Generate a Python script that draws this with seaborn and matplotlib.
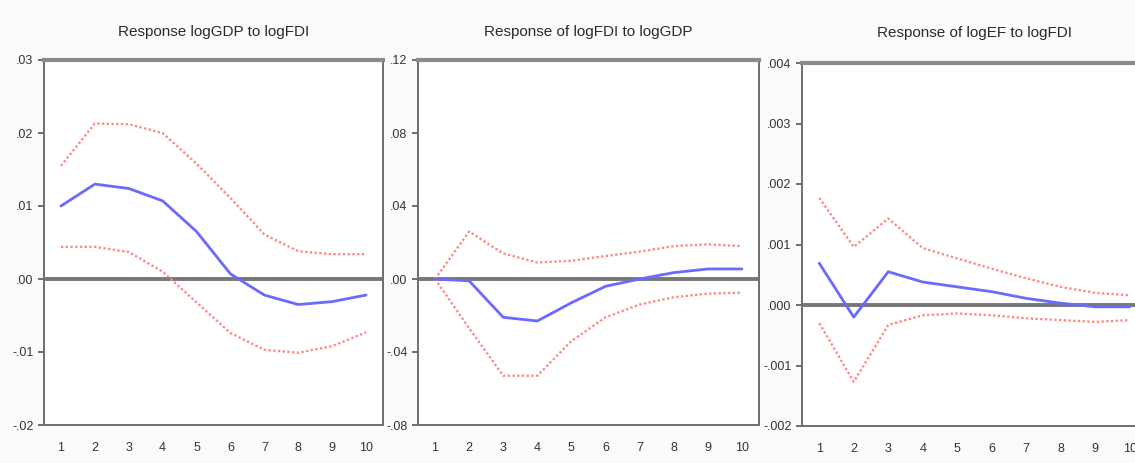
import numpy as np
import pandas as pd
import matplotlib
matplotlib.use("Agg")
import matplotlib.pyplot as plt
from matplotlib.ticker import FixedLocator, FuncFormatter
import seaborn as sns

periods = list(range(1, 11))

# Response logGDP to logFDI
gdp_resp = [0.0100, 0.0130, 0.0124, 0.0107, 0.0065, 0.0007, -0.0022, -0.0035, -0.0031, -0.0022]
gdp_upper = [0.0155, 0.0213, 0.0212, 0.0200, 0.0158, 0.0111, 0.0061, 0.0038, 0.0034, 0.0034]
gdp_lower = [0.0044, 0.0044, 0.0037, 0.0010, -0.0032, -0.0074, -0.0097, -0.0101, -0.0092, -0.0073]

# Response of logFDI to logGDP
fdi_resp = [0.0, -0.001, -0.021, -0.023, -0.013, -0.004, 0.0, 0.0035, 0.0055, 0.0055]
fdi_upper = [0.0, 0.026, 0.014, 0.009, 0.010, 0.0126, 0.015, 0.018, 0.019, 0.018]
fdi_lower = [0.0, -0.027, -0.053, -0.053, -0.034, -0.021, -0.014, -0.010, -0.008, -0.0075]

# Response of logEF to logFDI
ef_resp = [0.00069, -0.00020, 0.00055, 0.00038, 0.00030, 0.00022, 0.00011, 0.00003, -0.00003, -0.00003]
ef_upper = [0.00177, 0.00096, 0.00143, 0.00094, 0.00077, 0.00060, 0.00044, 0.00030, 0.00020, 0.00016]
ef_lower = [-0.00030, -0.00127, -0.00033, -0.00017, -0.00014, -0.00017, -0.00022, -0.00025, -0.00028, -0.00025]

titles = ["Response logGDP to logFDI", "Response of logFDI to logGDP", "Response of logEF to logFDI"]
y_ticks = [
    [-0.02, -0.01, 0.0, 0.01, 0.02, 0.03],
    [-0.08, -0.04, 0.0, 0.04, 0.08, 0.12],
    [-0.002, -0.001, 0.0, 0.001, 0.002, 0.003, 0.004],
]
y_decimals = [2, 2, 3]

sns.set_style("white")
plt.rcParams["font.family"] = ["Liberation Sans", "DejaVu Sans"]

fig = plt.figure(figsize=(11.35, 4.63), dpi=100, facecolor="#fbfbfb")
boxes = [
    [44 / 1135, 1 - 425 / 463, 339 / 1135, 365 / 463],
    [418 / 1135, 1 - 425 / 463, 341 / 1135, 365 / 463],
    [802 / 1135, 1 - 426 / 463, 345 / 1135, 363 / 463],
]
series = [
    (gdp_resp, gdp_upper, gdp_lower),
    (fdi_resp, fdi_upper, fdi_lower),
    (ef_resp, ef_upper, ef_lower),
]

for i, (resp, upper, lower) in enumerate(series):
    ax = fig.add_axes(boxes[i])
    ax.set_facecolor("white")
    df = pd.DataFrame({"period": periods, "resp": resp, "upper": upper, "lower": lower})

    ax.axhline(0, color="#777777", lw=2.8, zorder=1)
    sns.lineplot(data=df, x="period", y="upper", ax=ax, color="#ff8a8a",
                 lw=1.7, linestyle=(0, (1, 1)), zorder=2)
    sns.lineplot(data=df, x="period", y="lower", ax=ax, color="#ff8a8a",
                 lw=1.7, linestyle=(0, (1, 1)), zorder=2)
    sns.lineplot(data=df, x="period", y="resp", ax=ax, color="#6a6aff",
                 lw=2.0, zorder=3)

    ax.set_xlim(0.5, 10.5)
    ax.set_ylim(y_ticks[i][0], y_ticks[i][-1])
    ax.set_xlabel("")
    ax.set_ylabel("")
    ax.set_title(titles[i], fontsize=11, color="#2a2a2a", pad=17 if i < 2 else 19)

    d = y_decimals[i]
    ax.yaxis.set_major_locator(FixedLocator(y_ticks[i]))
    ax.yaxis.set_major_formatter(FuncFormatter(
        lambda v, p, d=d: f"{v:.{d}f}".replace("0.", ".")))
    ax.xaxis.set_major_locator(FixedLocator(periods))
    ax.xaxis.set_minor_locator(FixedLocator(np.arange(0.5, 11, 1.0)))
    ax.tick_params(axis="x", which="major", length=0, pad=12, labelsize=9, colors="#333333")
    ax.tick_params(axis="x", which="minor", length=4, width=1.2, color="#555555", direction="out")
    ax.tick_params(axis="y", length=4, width=1.2, color="#555555", labelsize=9,
                   labelcolor="#333333", left=True, direction="out")

    for side in ["left", "bottom", "right"]:
        ax.spines[side].set_color("#6f6f6f")
        ax.spines[side].set_linewidth(1.4)
    ax.spines["top"].set_color("#8a8a8a")
    ax.spines["top"].set_linewidth(3)
    ax.spines["right"].set_visible(i < 2)

fig.savefig("out.png", dpi=100, facecolor=fig.get_facecolor())
